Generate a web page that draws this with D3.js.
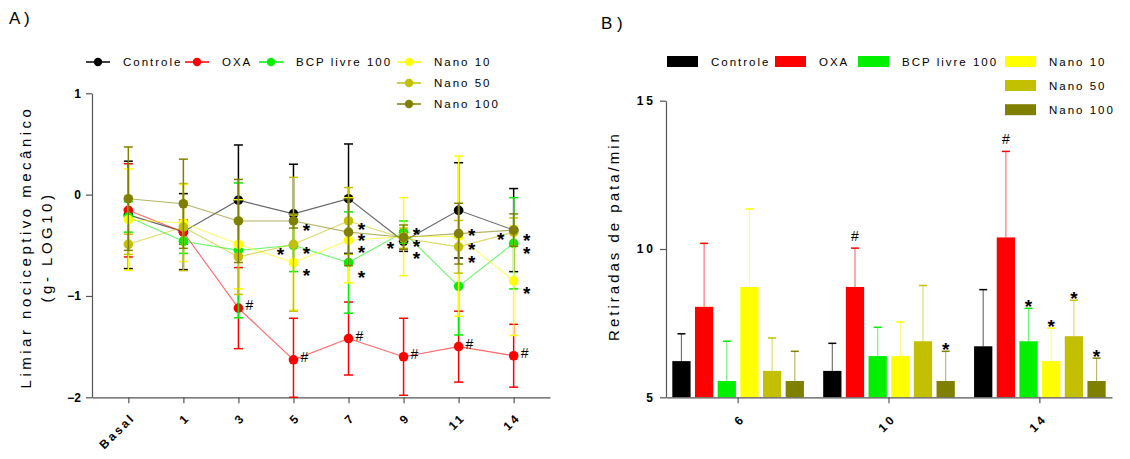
<!DOCTYPE html>
<html>
<head>
<meta charset="utf-8">
<script src="https://cdn.jsdelivr.net/npm/d3@7"></script>
<style>
  html, body { margin: 0; padding: 0; background: #fff; }
  svg { display: block; font-family: "Liberation Sans", Arial, sans-serif; }
</style>
</head>
<body>
<svg id="chart" width="1130" height="459"></svg>
<script>
// ---------- Panel A: mechanical nociceptive threshold (g, log10), mean ± SEM ----------
const days = ["Basal", "1", "3", "5", "7", "9", "11", "14"];
const groups = ["Controle", "OXA", "BCP livre 100", "Nano 10", "Nano 50", "Nano 100"];

const controleMean = [-0.20, -0.365, -0.055, -0.19, -0.04, -0.46, -0.155, -0.35];
const controleSem  = [0.53, 0.375, 0.545, 0.49, 0.54, 0.10, 0.47, 0.41];
const oxaMean      = [-0.155, -0.37, -1.12, -1.63, -1.42, -1.60, -1.50, -1.59];
const oxaSem       = [0.46, 0.12, 0.40, 0.41, 0.36, 0.38, 0.35, 0.31];
const bcpMean      = [-0.22, -0.46, -0.55, -0.50, -0.67, -0.37, -0.905, -0.48];
const bcpSem       = [0.15, 0.12, 0.665, 0.26, 0.50, 0.11, 0.48, 0.45];
const nano10Mean   = [-0.247, -0.28, -0.49, -0.67, -0.45, -0.415, -0.41, -0.85];
const nano10Sem    = [0.50, 0.38, 0.44, 0.47, 0.42, 0.385, 0.79, 0.54];
const nano50Mean   = [-0.49, -0.32, -0.615, -0.49, -0.26, -0.43, -0.515, -0.37];
const nano50Sem    = [0.10, 0.43, 0.37, 0.66, 0.33, 0.10, 0.26, 0.14];
const nano100Mean  = [-0.04, -0.09, -0.26, -0.26, -0.37, -0.42, -0.385, -0.35];
const nano100Sem   = [0.51, 0.44, 0.41, 0.07, 0.33, 0.12, 0.30, 0.16];

const yTicksA = [-2, -1, 0, 1];

// significance marks: "*" vs OXA (placed by day / value, side of the point), "#" vs Controle on OXA
const starDaysA   = ["5", "5", "5", "5", "7", "7", "7", "7", "9", "9", "9", "9", "11", "11", "11", "14", "14", "14", "14"];
const starValuesA = [-0.55, -0.31, -0.54, -0.75, -0.30, -0.41, -0.53, -0.77, -0.49, -0.35, -0.47, -0.59, -0.36, -0.50, -0.63, -0.40, -0.41, -0.54, -0.93];
const starSideA   = [-1, 1, 1, 1, 1, 1, 1, 1, -1, 1, 1, 1, 1, 1, 1, -1, 1, 1, 1];
const hashDaysA   = ["3", "5", "7", "9", "11", "14"];

// ---------- Panel B: paw withdrawals per minute, mean + SEM ----------
const weeksB = ["6", "10", "14"];
const controleB  = [6.22, 5.89, 6.72];
const controleBE = [0.92, 0.93, 1.91];
const oxaB       = [8.05, 8.72, 10.39];
const oxaBE      = [2.14, 1.31, 2.90];
const bcpB       = [5.55, 6.39, 6.89];
const bcpBE      = [1.34, 0.97, 1.11];
const nano10B    = [8.72, 6.39, 6.22];
const nano10BE   = [2.63, 1.15, 1.11];
const nano50B    = [5.89, 6.89, 7.06];
const nano50BE   = [1.11, 1.88, 1.21];
const nano100B   = [5.55, 5.55, 5.55];
const nano100BE  = [1.00, 1.00, 0.77];
const yTicksB = [5, 10, 15];

const hashB = [["10", "OXA"], ["14", "OXA"]];
const starB = [["10", "Nano 100"], ["14", "BCP livre 100"], ["14", "Nano 10"], ["14", "Nano 50"], ["14", "Nano 100"]];

// ---------- styling ----------
const colors = ["#000000", "#ff0000", "#00f000", "#ffff00", "#c2c000", "#808000"];
const axisColor = "#555";
const FONT = "'Liberation Sans', Arial, sans-serif";

const seriesA = [
  { name: groups[0], mean: controleMean, sem: controleSem },
  { name: groups[1], mean: oxaMean, sem: oxaSem },
  { name: groups[2], mean: bcpMean, sem: bcpSem },
  { name: groups[3], mean: nano10Mean, sem: nano10Sem },
  { name: groups[4], mean: nano50Mean, sem: nano50Sem },
  { name: groups[5], mean: nano100Mean, sem: nano100Sem }
];
const seriesB = [
  { name: groups[0], val: controleB, err: controleBE },
  { name: groups[1], val: oxaB, err: oxaBE },
  { name: groups[2], val: bcpB, err: bcpBE },
  { name: groups[3], val: nano10B, err: nano10BE },
  { name: groups[4], val: nano50B, err: nano50BE },
  { name: groups[5], val: nano100B, err: nano100BE }
];

const svg = d3.select("#chart");
svg.append("rect").attr("width", 1130).attr("height", 459).attr("fill", "#fff");

function styleAxis(g) {
  g.select(".domain").attr("stroke", axisColor).attr("stroke-width", 1.2);
  g.selectAll(".tick line").attr("stroke", axisColor).attr("stroke-width", 1.2);
  g.selectAll("text").attr("fill", "#000").style("font-family", FONT)
    .style("font-weight", "bold").style("font-size", "12px");
}

function star(g, x, y) {
  g.append("text").attr("x", x).attr("y", y + 11)
    .attr("text-anchor", "middle").style("font-size", "19px").style("font-weight", "bold")
    .style("font-family", FONT).text("*");
}

// ================= Panel A =================
const xA = d3.scalePoint().domain(days).range([92, 550]).padding(0.66);
const yA = d3.scaleLinear().domain([-2, 1]).range([397.3, 93.3]);
const clampA = v => Math.max(-2, Math.min(1, v));

const gA = svg.append("g");

gA.append("text").attr("x", 9).attr("y", 24).style("font-size", "17px").style("font-family", FONT)
  .text("A )");

// axes
const yAxisA = gA.append("g").attr("transform", "translate(92,0)")
  .call(d3.axisLeft(yA).tickValues(yTicksA).tickFormat(d3.format("d")).tickSize(6).tickSizeOuter(0).tickPadding(5));
styleAxis(yAxisA);

const xAxisA = gA.append("g").attr("transform", `translate(0,${yA(-2)})`)
  .call(d3.axisBottom(xA).tickSize(6).tickSizeOuter(0));
styleAxis(xAxisA);
xAxisA.selectAll(".tick text")
  .attr("x", 0).attr("y", 0).attr("dy", "0.35em")
  .attr("text-anchor", "end")
  .style("letter-spacing", "2.5px")
  .attr("transform", "translate(4,18) rotate(-45)");

// y title
const yTitleA = gA.append("g").attr("transform", "translate(31,247) rotate(-90)");
yTitleA.append("text").attr("text-anchor", "middle").attr("x", 0).attr("y", 0)
  .style("font-size", "15px").style("letter-spacing", "3.5px").style("font-family", FONT)
  .text("Limiar nociceptivo mecânico");
yTitleA.append("text").attr("text-anchor", "middle").attr("x", 0).attr("y", 21)
  .style("font-size", "15px").style("letter-spacing", "3.5px").style("font-family", FONT)
  .text("(g- LOG10)");

// series: error bars, connecting line, markers
seriesA.forEach((s, i) => {
  const g = gA.append("g");
  const c = colors[i];
  days.forEach((d, j) => {
    const x = xA(d);
    const lo = yA(clampA(s.mean[j] - s.sem[j]));
    const hi = yA(clampA(s.mean[j] + s.sem[j]));
    g.append("line").attr("x1", x).attr("x2", x).attr("y1", lo).attr("y2", hi)
      .attr("stroke", c).attr("stroke-width", 1.5);
    [lo, hi].forEach(yy => g.append("line").attr("x1", x - 4.5).attr("x2", x + 4.5)
      .attr("y1", yy).attr("y2", yy).attr("stroke", c).attr("stroke-width", 1.5));
  });
  const line = d3.line().x((v, j) => xA(days[j])).y(v => yA(v));
  g.append("path").attr("d", line(s.mean)).attr("fill", "none")
    .attr("stroke", c).attr("stroke-opacity", 0.6).attr("stroke-width", 1.1);
  g.selectAll("circle").data(s.mean).join("circle")
    .attr("cx", (v, j) => xA(days[j])).attr("cy", v => yA(v)).attr("r", 4.8).attr("fill", c);
});

// significance marks
starDaysA.forEach((d, k) => star(gA, xA(d) + starSideA[k] * 13, yA(starValuesA[k])));
hashDaysA.forEach(d => {
  const v = oxaMean[days.indexOf(d)];
  gA.append("text").attr("x", xA(d) + 7).attr("y", yA(v) + 2)
    .style("font-size", "14px").style("font-family", FONT).text("#");
});

// legend
const legA = [[86, 62], [185, 62], [259, 62], [397, 62], [397, 83], [397, 104]];
groups.forEach((name, i) => {
  const [lx, ly] = legA[i];
  gA.append("line").attr("x1", lx).attr("x2", lx + 24).attr("y1", ly).attr("y2", ly)
    .attr("stroke", colors[i]).attr("stroke-width", 1.5);
  gA.append("circle").attr("cx", lx + 12).attr("cy", ly).attr("r", 4.2).attr("fill", colors[i]);
  gA.append("text").attr("x", lx + 37).attr("y", ly + 4).style("font-size", "11.5px")
    .style("letter-spacing", "2px").style("font-family", FONT).text(name);
});

// ================= Panel B =================
const yB = d3.scaleLinear().domain([5, 15]).range([397.3, 100.7]);
const x0 = d3.scaleBand().domain(weeksB).range([666, 1112]).paddingInner(0.1).paddingOuter(0.028);
const x1 = d3.scaleBand().domain(groups).range([0, x0.bandwidth()]).paddingInner(0.194).paddingOuter(0.092);

const gB = svg.append("g");
gB.append("text").attr("x", 601).attr("y", 29).style("font-size", "17px").style("font-family", FONT)
  .text("B )");

const yAxisB = gB.append("g").attr("transform", "translate(666,0)")
  .call(d3.axisLeft(yB).tickValues(yTicksB).tickSize(6).tickSizeOuter(0).tickPadding(4));
styleAxis(yAxisB);
yAxisB.selectAll(".tick text").style("letter-spacing", "3px");

const xAxisB = gB.append("g").attr("transform", `translate(0,${yB(5)})`)
  .call(d3.axisBottom(x0).tickSize(6).tickSizeOuter(0));
styleAxis(xAxisB);
xAxisB.selectAll(".tick text")
  .attr("x", 0).attr("y", 0).attr("dy", "0.35em")
  .attr("text-anchor", "end")
  .style("letter-spacing", "3px")
  .attr("transform", "translate(5,19) rotate(-45)");

const yTitleB = gB.append("g").attr("transform", "translate(619,236) rotate(-90)");
yTitleB.append("text").attr("text-anchor", "middle").style("font-size", "15px")
  .style("letter-spacing", "3px").style("font-family", FONT).text("Retiradas de pata/min");

// bars with upper SEM whiskers
seriesB.forEach((s, i) => {
  const c = colors[i];
  weeksB.forEach((w, j) => {
    const bx = x0(w) + x1(s.name);
    const bw = x1.bandwidth();
    const cx = bx + bw / 2;
    const top = yB(s.val[j] + s.err[j]);
    gB.append("line").attr("x1", cx).attr("x2", cx).attr("y1", yB(s.val[j])).attr("y2", top)
      .attr("stroke", c).attr("stroke-opacity", 0.55).attr("stroke-width", 1.2);
    gB.append("line").attr("x1", cx - 4).attr("x2", cx + 4).attr("y1", top).attr("y2", top)
      .attr("stroke", c).attr("stroke-width", 1.5);
    gB.append("rect").attr("x", bx).attr("y", yB(s.val[j])).attr("width", bw)
      .attr("height", yB(5) - yB(s.val[j])).attr("fill", c);
  });
});
// keep the x axis above the bars
xAxisB.raise();

function capCenter(w, name) {
  const s = seriesB[groups.indexOf(name)];
  const j = weeksB.indexOf(w);
  return [x0(w) + x1(name) + x1.bandwidth() / 2, yB(s.val[j] + s.err[j])];
}
hashB.forEach(([w, name]) => {
  const [cx, cy] = capCenter(w, name);
  gB.append("text").attr("x", cx).attr("y", cy - 7).attr("text-anchor", "middle")
    .style("font-size", "14px").style("font-family", FONT).text("#");
});
starB.forEach(([w, name]) => {
  const [cx, cy] = capCenter(w, name);
  star(gB, cx, cy - 6.5);
});

// legend
const legB = [[667, 61.5], [775, 61.5], [858, 61.5], [1005, 61.5], [1005, 85.5], [1005, 109.7]];
groups.forEach((name, i) => {
  const [lx, ly] = legB[i];
  gB.append("rect").attr("x", lx).attr("y", ly - 5.5).attr("width", 31).attr("height", 11).attr("fill", colors[i]);
  gB.append("text").attr("x", lx + 44).attr("y", ly + 4).style("font-size", "11.5px")
    .style("letter-spacing", "2px").style("font-family", FONT).text(name);
});
</script>
</body>
</html>
